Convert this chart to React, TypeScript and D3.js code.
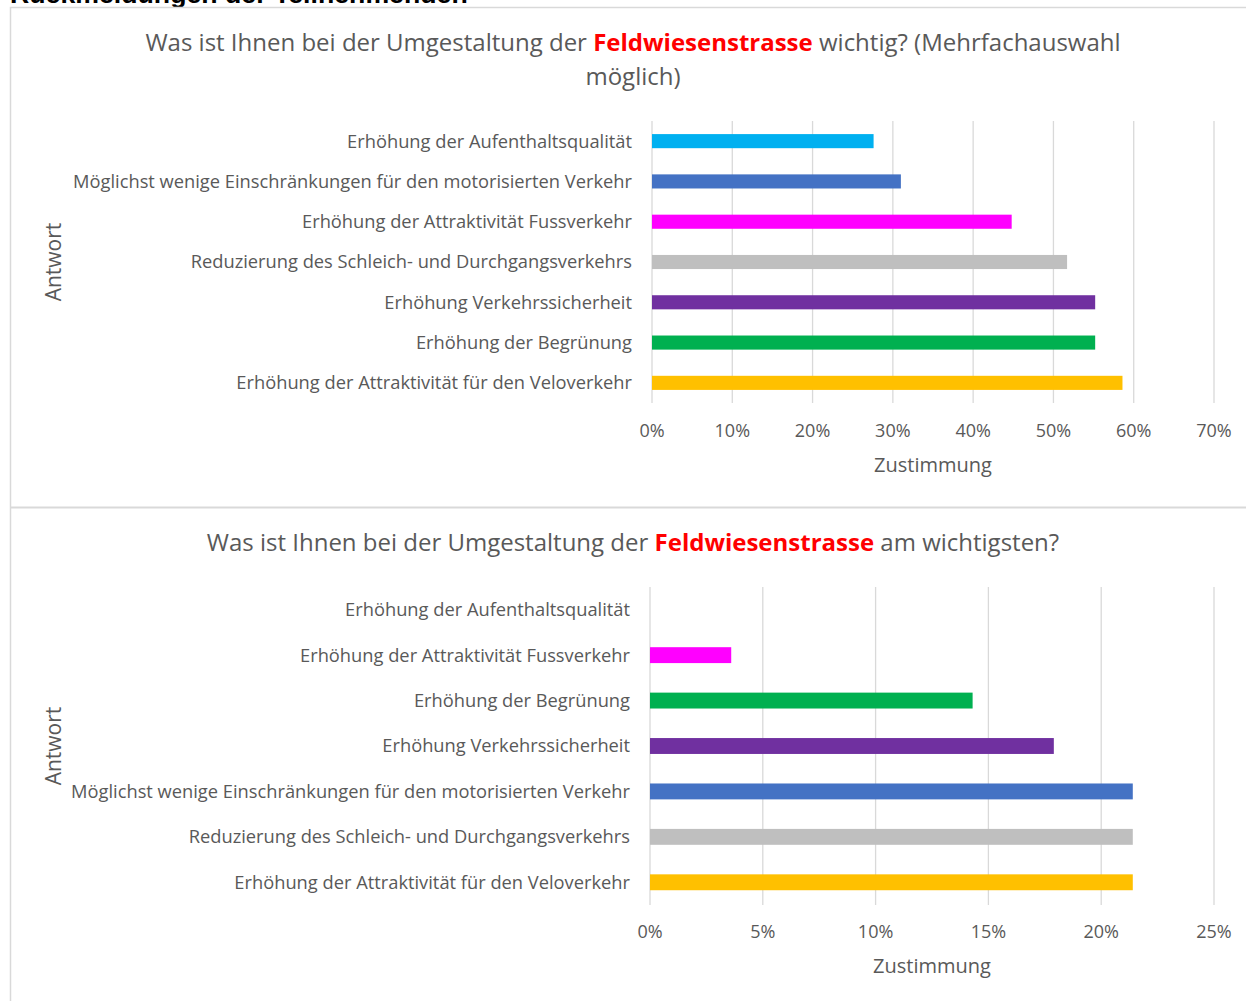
import React, { useEffect, useRef } from 'react';
import * as d3 from 'd3';

// Chart 1: multiple choice
const topCategories = [
  'Erhöhung der Aufenthaltsqualität',
  'Möglichst wenige Einschränkungen für den motorisierten Verkehr',
  'Erhöhung der Attraktivität Fussverkehr',
  'Reduzierung des Schleich- und Durchgangsverkehrs',
  'Erhöhung Verkehrssicherheit',
  'Erhöhung der Begrünung',
  'Erhöhung der Attraktivität für den Veloverkehr',
];
const topValues = [0.276, 0.31, 0.448, 0.517, 0.552, 0.552, 0.586];
const topColors = ['#00B0F0', '#4472C4', '#FF00FF', '#BFBFBF', '#7030A0', '#00B050', '#FFC000'];
const topTicks = [0, 0.1, 0.2, 0.3, 0.4, 0.5, 0.6, 0.7];

// Chart 2: most important
const bottomCategories = [
  'Erhöhung der Aufenthaltsqualität',
  'Erhöhung der Attraktivität Fussverkehr',
  'Erhöhung der Begrünung',
  'Erhöhung Verkehrssicherheit',
  'Möglichst wenige Einschränkungen für den motorisierten Verkehr',
  'Reduzierung des Schleich- und Durchgangsverkehrs',
  'Erhöhung der Attraktivität für den Veloverkehr',
];
const bottomValues = [0, 0.036, 0.143, 0.179, 0.214, 0.214, 0.214];
const bottomColors = ['#00B0F0', '#FF00FF', '#00B050', '#7030A0', '#4472C4', '#BFBFBF', '#FFC000'];
const bottomTicks = [0, 0.05, 0.1, 0.15, 0.2, 0.25];

const FONT = '"Open Sans", sans-serif';
const TEXT = '#595959';
const GRID = '#D9D9D9';

function drawChart(svg, opts) {
  const { categories, values, colors, ticks, x0, x1, y0, y1, labelX, tickY, axisTitleY } = opts;

  const x = d3.scaleLinear().domain([0, ticks[ticks.length - 1]]).range([x0, x1]);
  const y = d3.scaleBand().domain(categories).range([y0, y1]).paddingInner(0.65).paddingOuter(0.325);

  const g = svg.append('g');

  // gridlines
  g.selectAll('line.grid')
    .data(ticks)
    .join('line')
    .attr('x1', d => x(d))
    .attr('x2', d => x(d))
    .attr('y1', y0)
    .attr('y2', y1)
    .attr('stroke', GRID)
    .attr('stroke-width', 1.3);

  // bars
  g.selectAll('rect.bar')
    .data(values)
    .join('rect')
    .attr('x', x(0))
    .attr('y', (d, i) => y(categories[i]))
    .attr('width', d => x(d) - x(0))
    .attr('height', y.bandwidth())
    .attr('fill', (d, i) => colors[i]);

  // category labels
  g.selectAll('text.cat')
    .data(categories)
    .join('text')
    .attr('x', labelX)
    .attr('y', d => y(d) + y.bandwidth() / 2)
    .attr('dy', '0.35em')
    .attr('text-anchor', 'end')
    .attr('font-family', FONT)
    .attr('font-size', 18.3)
    .attr('fill', TEXT)
    .text(d => d);

  // tick labels
  g.selectAll('text.tick')
    .data(ticks)
    .join('text')
    .attr('x', d => x(d))
    .attr('y', tickY)
    .attr('dy', '0.35em')
    .attr('text-anchor', 'middle')
    .attr('font-family', FONT)
    .attr('font-size', 18)
    .attr('fill', TEXT)
    .text(d => d3.format('.0%')(d));

  // axis titles
  g.append('text')
    .attr('x', (x0 + x1) / 2)
    .attr('y', axisTitleY)
    .attr('dy', '0.35em')
    .attr('text-anchor', 'middle')
    .attr('font-family', FONT)
    .attr('font-size', 20)
    .attr('fill', TEXT)
    .text('Zustimmung');

  g.append('text')
    .attr('transform', `translate(54,${(y0 + y1) / 2}) rotate(-90)`)
    .attr('dy', '0.35em')
    .attr('text-anchor', 'middle')
    .attr('font-family', FONT)
    .attr('font-size', 21)
    .attr('fill', TEXT)
    .text('Antwort');
}

function title(svg, cx, cy, before, after) {
  const t = svg.append('text')
    .attr('x', cx)
    .attr('y', cy)
    .attr('dy', '0.35em')
    .attr('text-anchor', 'middle')
    .attr('font-family', FONT)
    .attr('font-size', 24)
    .attr('fill', TEXT);
  t.append('tspan').text(before);
  t.append('tspan').attr('fill', '#FF0000').attr('font-weight', 'bold').text('Feldwiesenstrasse');
  t.append('tspan').text(after);
}

export default function App() {
  const svgRef = useRef(null);

  useEffect(() => {
    const width = 1246;
    const height = 1001;
    const svg = d3.select(svgRef.current).attr('width', width).attr('height', height);
    svg.selectAll('*').remove();

    svg.append('rect').attr('width', width).attr('height', height).attr('fill', '#fff');

    // page heading, cut off at the top
    svg.append('text')
      .attr('x', 10)
      .attr('y', 3)
      .attr('font-family', '"Liberation Sans", Arial, sans-serif')
      .attr('font-weight', 'bold')
      .attr('font-size', 26.7)
      .attr('fill', '#000')
      .text('Rückmeldungen der Teilnehmenden');

    // chart frames
    svg.append('path')
      .attr('d', `M10.5,${height} V7.5 H${width}`)
      .attr('fill', 'none')
      .attr('stroke', GRID)
      .attr('stroke-width', 1.5);
    svg.append('line')
      .attr('x1', 10).attr('x2', width)
      .attr('y1', 507.5).attr('y2', 507.5)
      .attr('stroke', GRID)
      .attr('stroke-width', 2);

    title(svg, 633, 43, 'Was ist Ihnen bei der Umgestaltung der ', ' wichtig? (Mehrfachauswahl');
    svg.append('text')
      .attr('x', 633).attr('y', 77).attr('dy', '0.35em')
      .attr('text-anchor', 'middle')
      .attr('font-family', FONT)
      .attr('font-size', 24)
      .attr('fill', TEXT)
      .text('möglich)');

    drawChart(svg, {
      categories: topCategories,
      values: topValues,
      colors: topColors,
      ticks: topTicks,
      x0: 652, x1: 1214, y0: 121, y1: 403,
      labelX: 632, tickY: 431, axisTitleY: 465,
    });

    title(svg, 633, 543, 'Was ist Ihnen bei der Umgestaltung der ', ' am wichtigsten?');

    drawChart(svg, {
      categories: bottomCategories,
      values: bottomValues,
      colors: bottomColors,
      ticks: bottomTicks,
      x0: 650, x1: 1214, y0: 587, y1: 905,
      labelX: 630, tickY: 932, axisTitleY: 966,
    });
  }, []);

  return (
    <svg ref={svgRef} style={{ position: 'absolute', left: 0, top: 0, display: 'block' }}></svg>
  );
}
